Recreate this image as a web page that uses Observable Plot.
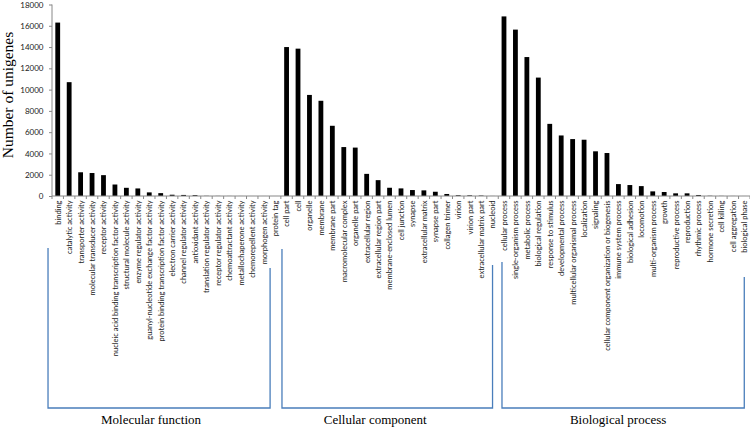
<!DOCTYPE html>
<html><head><meta charset="utf-8">
<script src="https://cdn.jsdelivr.net/npm/d3@7"></script>
<script src="https://cdn.jsdelivr.net/npm/@observablehq/plot@0.6"></script>
<style>
html,body{margin:0;padding:0;background:#fff;}
#chart svg{display:block;}
</style></head><body><div id="chart"></div>
<script>
// ---- data ----
const mfLabels = ["binding","catalytic activity","transporter activity","molecular transducer activity","receptor activity","nucleic acid binding transcription factor activity","structural molecule activity","enzyme regulator activity","guanyl-nucleotide exchange factor activity","protein binding transcription factor activity","electron carrier activity","channel regulator activity","antioxidant activity","translation regulator activity","receptor regulator activity","chemoattractant activity","metallochaperone activity","chemorepellent activity","morphogen activity","protein tag"];
const mfValues = [16300,10700,2230,2160,1960,1080,770,710,340,270,120,100,80,15,10,5,3,2,2,1];
const ccLabels = ["cell part","cell","organelle","membrane","membrane part","macromolecular complex","organelle part","extracellular region","extracellular region part","membrane-enclosed lumen","cell junction","synapse","extracellular matrix","synapse part","collagen trimer","virion","virion part","extracellular matrix part","nucleoid"];
const ccValues = [14000,13850,9500,8950,6600,4600,4550,2080,1490,775,715,560,530,400,190,70,60,40,5];
const bpLabels = ["cellular process","single-organism process","metabolic process","biological regulation","response to stimulus","developmental process","multicellular organismal process","localization","signaling","cellular component organization or biogenesis","immune system process","biological adhesion","locomotion","multi-organism process","growth","reproductive process","reproduction","rhythmic process","hormone secretion","cell killing","cell aggregation","biological phase"];
const bpValues = [16880,15640,13060,11130,6780,5690,5350,5290,4200,4040,1120,1030,930,435,375,250,250,95,20,10,5,2];
const groupNames = ["Molecular function","Cellular component","Biological process"];
const yTicks = [0,2000,4000,6000,8000,10000,12000,14000,16000,18000];
const yTitle = "Number of unigenes";

// ---- build table ----
const groupsData = [[mfLabels,mfValues],[ccLabels,ccValues],[bpLabels,bpValues]];
const rows = [];
groupsData.forEach(([labs,vals],g)=>labs.forEach((l,i)=>rows.push({cat:l,value:vals[i],group:groupNames[g]})));
const domain = rows.map(r=>r.cat);

const M = {marginLeft:52, marginRight:0, marginTop:4.5, marginBottom:232};
const plot = Plot.plot({
  width:750, height:428,
  ...M,
  style:{fontFamily:"Lato, sans-serif", fontSize:"8px", color:"#1a1a1a", background:"#fff"},
  x:{domain, paddingInner:0.58, paddingOuter:0.29, align:0.5, round:false, label:null},
  y:{domain:[0,18000], ticks:yTicks, label:null},
  marks:[
    Plot.barY(rows,{x:"cat", y:"value", fill:"#000"}),
    Plot.axisY({...M, ticks:yTicks, tickSize:3, tickPadding:6, tickFormat:d=>String(d), stroke:"#888", fontSize:8, label:null}),
    Plot.axisX({...M, tickSize:0, tickPadding:4, tickRotate:-90, fontSize:7.5, label:null})
  ]
});
document.getElementById("chart").appendChild(plot);

// ---- axis lines, boundary ticks, brackets ----
const svg = d3.select(plot);
const xs = plot.scale("x"), ys = plot.scale("y");
const x0 = xs.range[0], x1 = xs.range[1];
const step = (x1-x0)/domain.length;
const bw = xs.bandwidth;
const yb = ys.apply(0), yt = ys.apply(18000);
const ov = svg.append("g").attr("fill","none");
ov.append("line").attr("x1",x0).attr("x2",x0).attr("y1",yt).attr("y2",yb).attr("stroke","#888");
ov.append("line").attr("x1",x0).attr("x2",x1).attr("y1",yb).attr("y2",yb).attr("stroke","#888");
for(let i=0;i<=domain.length;i++){
  const xx = x0+i*step;
  ov.append("line").attr("x1",xx).attr("x2",xx).attr("y1",yb).attr("y2",yb+3).attr("stroke","#888");
}
// y-axis title
svg.append("text").attr("transform",`translate(12.5,95) rotate(-90)`)
  .attr("text-anchor","middle").attr("font-family","'Liberation Serif', 'Times New Roman', serif")
  .attr("font-size",15.5).attr("fill","#000").text(yTitle);

// brackets (hand-placed offsets like the original drawing)
const bracketLayout = [
  {dl:-9.7, dr:6.4, topL:248, topR:268, textDx:-8},
  {dl:-4.6, dr:0, topL:249, topR:265, textDx:-12},
  {dl:-2, dr:0, topL:262, topR:277, textDx:-5}
];
const yBottom = 408;
groupsData.forEach(([labs],g)=>{
  const L = bracketLayout[g];
  const firstC = xs.apply(labs[0])+bw/2;
  const lastLab = g===0 ? labs[labs.length-2] : labs[labs.length-1];
  const lastC = xs.apply(lastLab)+bw/2;
  const xl = firstC+L.dl, xr = lastC+L.dr;
  ov.append("path").attr("d",`M${xl},${L.topL}V${yBottom}H${xr}V${L.topR}`)
    .attr("stroke","#4a7ebb").attr("stroke-width",1.3);
  svg.append("text").attr("x",(xl+xr)/2+L.textDx).attr("y",424).attr("text-anchor","middle")
    .attr("font-family","'Liberation Serif', 'Times New Roman', serif").attr("font-size",13)
    .attr("fill","#000").text(groupNames[g]);
});
</script></body></html>
